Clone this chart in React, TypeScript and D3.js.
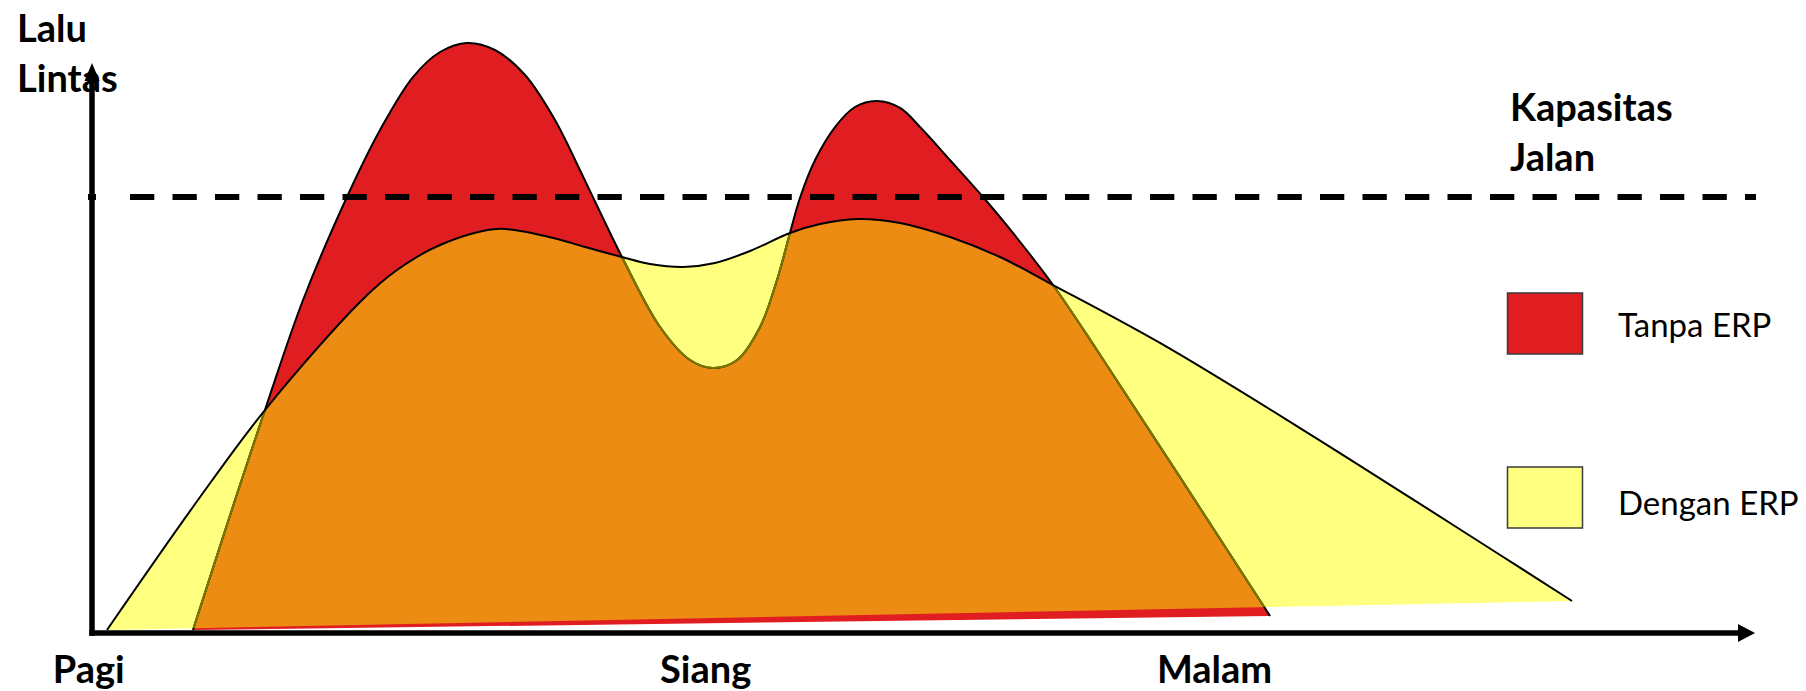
import React from "react";
import * as d3 from "d3";

// ---- data (time in % of axis length, traffic in % of axis height) ----
const tanpaErp: [number, number][] = [
  [6.07, 0.53], [8.6, 23.33], [10.4, 39.12], [12.69, 58.42], [15.33, 76.49], [17.32, 88.25],
  [19.3, 97.54], [20.93, 101.93], [22.55, 103.51], [24.23, 102.28], [26.04, 97.89],
  [27.84, 90.0], [29.34, 81.23], [30.55, 73.86], [31.87, 65.96], [34.16, 53.68],
  [35.96, 47.89], [37.34, 46.49], [38.79, 47.89], [40.17, 53.68], [41.19, 61.93],
  [41.97, 70.18], [42.57, 76.32], [43.48, 82.98], [44.68, 88.77], [45.88, 92.28],
  [47.2, 93.33], [48.59, 92.11], [49.79, 88.77], [51.59, 82.98], [53.58, 76.49],
  [55.38, 70.18], [57.79, 61.05], [60.43, 49.65], [70.84, 2.98],
];
const denganErp: [number, number][] = [
  [0.9, 0.53], [6.37, 23.33], [10.4, 39.12], [16.24, 58.42], [18.34, 63.68], [20.93, 68.07],
  [24.35, 70.88], [27.24, 69.65], [29.65, 67.72], [31.87, 65.96], [33.55, 64.74],
  [35.54, 64.21], [37.46, 64.91], [39.57, 67.02], [41.97, 70.18], [43.78, 71.75],
  [46.0, 72.63], [48.59, 71.93], [51.59, 69.47], [54.6, 65.96], [57.79, 61.05],
  [64.22, 50.88], [72.64, 35.96], [81.66, 19.3], [89.0, 5.61],
];
const capacityLevel = 76.5;
const timeLabels = ["Pagi", "Siang", "Malam"];
const timeTicks = [-0.2, 36.9, 67.5];
const legendLabels = ["Tanpa ERP", "Dengan ERP"];
const yTitle = ["Lalu", "Lintas"];
const capTitle = ["Kapasitas", "Jalan"];

const RED = "#E01E22";
const YELLOW = "#FFFF80";
const ORANGE = "#ED8C12";
const OLIVE = "#7A7A00";
const FONT = "Lato, 'Open Sans', sans-serif";

export default function App() {
  const W = 1806, H = 691;
  const x = d3.scaleLinear().domain([0, 100]).range([92, 1755]);
  const y = d3.scaleLinear().domain([0, 100]).range([633, 63]);
  const line = d3
    .line<[number, number]>()
    .x((d) => x(d[0]))
    .y((d) => y(d[1]))
    .curve(d3.curveCatmullRom.alpha(0.5));

  const redTop = line(tanpaErp) as string;
  const yelTop = line(denganErp) as string;
  const redArea = redTop + "Z";
  const yelArea = yelTop + "Z";

  const x0 = x(0);
  const y0 = y(0);
  const capY = y(capacityLevel);
  const period = 42.5;
  const legendColors = [RED, YELLOW];
  const legendTop = [293, 467];
  const legendBase = [337, 515];

  return (
    <svg
      width={W}
      height={H}
      viewBox={`0 0 ${W} ${H}`}
      style={{ position: "absolute", left: 0, top: 0, background: "#fff" }}
    >
      <defs>
        <clipPath id="yelClip">
          <path d={yelArea} />
        </clipPath>
      </defs>
      <rect x={0} y={0} width={W} height={H} fill="#fff" />

      {/* areas */}
      <path d={yelArea} fill={YELLOW} />
      <path d={redArea} fill={RED} />
      <path d={redArea} fill={ORANGE} clipPath="url(#yelClip)" />

      {/* outlines */}
      <path d={redTop} fill="none" stroke="#000" strokeWidth={2} strokeLinejoin="round" />
      <path d={redTop} fill="none" stroke={OLIVE} strokeWidth={2} clipPath="url(#yelClip)" />
      <path d={yelTop} fill="none" stroke="#000" strokeWidth={2} strokeLinejoin="round" />

      {/* capacity dashed line */}
      <line x1={x0 - 4} x2={x0 + 4} y1={capY} y2={capY} stroke="#000" strokeWidth={6} />
      <line
        x1={x0 + period - 4.5}
        x2={x(100) + 1}
        y1={capY}
        y2={capY}
        stroke="#000"
        strokeWidth={6}
        strokeDasharray="24.3 18.2"
      />

      {/* y title */}
      {yTitle.map((t, i) => (
        <text key={t} x={17} y={42 + i * 50} fontFamily={FONT} fontWeight={700} fontSize={38} fill="#000">
          {t}
        </text>
      ))}

      {/* axes */}
      <line x1={x0} x2={x0} y1={y0 + 2.75} y2={y(100) + 16} stroke="#000" strokeWidth={5.5} />
      <polygon
        points={`${x0},${y(100)} ${x0 - 7.5},${y(100) + 18} ${x0 + 7.5},${y(100) + 18}`}
        fill="#000"
      />
      <line x1={x0 - 2.75} x2={x(100) - 16} y1={y0} y2={y0} stroke="#000" strokeWidth={5.5} />
      <polygon
        points={`${x(100)},${y0} ${x(100) - 17},${y0 - 9} ${x(100) - 17},${y0 + 9}`}
        fill="#000"
      />

      {/* x labels */}
      {timeLabels.map((t, i) => (
        <text
          key={t}
          x={x(timeTicks[i])}
          y={683}
          textAnchor="middle"
          fontFamily={FONT}
          fontWeight={700}
          fontSize={38}
          fill="#000"
        >
          {t}
        </text>
      ))}

      {/* capacity label */}
      {capTitle.map((t, i) => (
        <text key={t} x={1510} y={121 + i * 50} fontFamily={FONT} fontWeight={700} fontSize={38} fill="#000">
          {t}
        </text>
      ))}

      {/* legend */}
      {legendLabels.map((t, i) => (
        <g key={t}>
          <rect
            x={1507.5}
            y={legendTop[i]}
            width={75}
            height={61}
            fill={legendColors[i]}
            stroke="#3a3a3a"
            strokeWidth={1.5}
          />
          <text x={1618} y={legendBase[i]} fontFamily={FONT} fontSize={33} fill="#000">
            {t}
          </text>
        </g>
      ))}
    </svg>
  );
}
